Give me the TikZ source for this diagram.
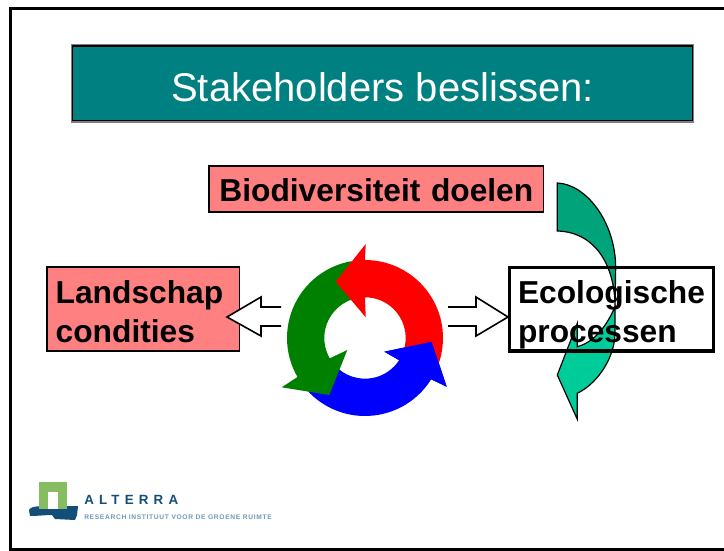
\documentclass[tikz,border=0pt]{standalone}
\usepackage{fontspec}
\setmainfont{Liberation Sans}
\usepackage{tikz}
\usetikzlibrary{calc}
\definecolor{titleteal}{HTML}{008080}
\definecolor{boxpink}{HTML}{FF8080}
\definecolor{leafdark}{HTML}{00A37A}
\definecolor{leaflight}{HTML}{00CC99}
\definecolor{ringgreen}{HTML}{008000}
\definecolor{logogreen}{HTML}{86BC62}
\definecolor{logoblue}{HTML}{124E78}
\definecolor{logogrey}{HTML}{6F98B4}

\begin{document}
\begin{tikzpicture}[x=0.75pt,y=0.75pt]
	\tikzstyle{labelbox}=[rectangle, draw=black, line width=0.8pt, anchor=north west, align=left, inner sep=0pt, outer sep=0pt, font=\bfseries\fontsize{23.8}{29.5}\selectfont]
	\tikzstyle{blockarrow}=[draw=black, line width=1.2pt, fill=white]
	\tikzstyle{leafpart}=[draw=black, line width=0.9pt]

	\useasboundingbox (0,0) rectangle (724,550);
	% frame
	\draw[line width=2.25pt] (724,1) -- (10.7,1) -- (10.7,541) -- (724,541);

	% title
	\node [rectangle, draw=gray, line width=1.8pt, fill=titleteal, minimum width=466pt, minimum height=57pt, inner sep=0pt, outer sep=0pt] (titleedge) at (382.5,466.5) {};
	\node [rectangle, draw=black, line width=1pt, text=white, minimum width=465pt, minimum height=56pt, inner sep=0pt, font=\fontsize{30}{36}\selectfont] (title) at (382.5,466.5) {\rule{0pt}{27pt}Stakeholders beslissen:};

	% boxes
	\node [labelbox, fill=boxpink, minimum width=251pt, minimum height=34.5pt, text width=240pt, align=center] (doelen) at (209,384) {\rule{0pt}{19pt}Biodiversiteit doelen};
	\node [labelbox, fill=boxpink, minimum width=144.3pt, minimum height=63pt, text width=131.25pt] (landschap) at (47,283) {\rule{0pt}{21pt}Landschap\\condities};

	% leaf
	\draw[leafpart, fill=leaflight] (577.3,226.7) -- (557.3,175) -- (577.3,130.7) -- (577.3,156.7) .. controls (600,168) and (615,195) .. (615,217) -- (615,243) .. controls (607,225) and (595,208) .. (577.3,203.3) -- cycle;
	\draw[leafpart, fill=leafdark] (557.3,367) .. controls (585,366) and (615,330) .. (615.7,283) -- (615,243) .. controls (615,285) and (595,318) .. (557.3,319) -- cycle;

	\node [labelbox, line width=2.5pt, minimum width=153.3pt, minimum height=62.6pt] (processen) at (509.3,282.5) {\rule{0pt}{26pt}Ecologische\\processen};

	% block arrows
	\coordinate (lefttip) at (227,233);
	\coordinate (righttip) at (508,233);
	\draw[blockarrow] (281,243) -- (261,243) -- (261,253) -- (lefttip) -- (261,214) -- (261,224) -- (281,224);
	\draw[blockarrow] (448,243) -- (476,243) -- (476,253) -- (righttip) -- (476,214) -- (476,224) -- (448,224);

	% ring
	\coordinate (c) at (365,212);
	\coordinate (bluetip) at (431.7,208.3);
	\coordinate (blueinner) at (384.3,198.3);
	\coordinate (blueouter) at (446.7,163.3);
	\fill[blue] ([shift={(-32:78)}]c) arc[start angle=-32, end angle=-138, radius=78] -- ([shift={(-138:40.7)}]c) arc[start angle=-138, end angle=-33, radius=40.7] -- (blueinner) -- (bluetip) -- (blueouter) -- cycle;
	\fill[ringgreen] ([shift={(210:78)}]c) arc[start angle=210, end angle=100, radius=78] -- ([shift={(100:40.7)}]c) arc[start angle=100, end angle=210, radius=40.7] -- (347.3,200) -- (329.3,155) -- (281.7,162.7) -- cycle;
	\fill[red] ([shift={(90:78)}]c) arc[start angle=90, end angle=-18, radius=78] -- ([shift={(-14:40.7)}]c) arc[start angle=-14, end angle=90, radius=40.7] -- (365.7,232.7) -- (335.7,268.3) -- (365.7,306) -- cycle;
	\fill[blue] ([shift={(-32:78)}]c) -- (blueouter) -- (bluetip) -- (blueinner) -- ([shift={(-33:40.7)}]c) -- cycle;

	% logo
	\fill[logoblue] (29,40) .. controls (32,46) and (45,43) .. (78,44) -- (77,35) -- (75,30) -- (55,31) -- (52,35) .. controls (45,35) and (38,34) .. (30,34) -- cycle;
	\fill[logogreen] (39,68) rectangle (67,41);
	\fill[white] (48,58) rectangle (58,41);
	\node [anchor=west, inner sep=0pt, text=logoblue, font=\bfseries\fontsize{10}{10}\selectfont\addfontfeature{LetterSpace=39}] (alterra) at (84,50) {ALTERRA};
	\node [anchor=west, inner sep=0pt, text=logogrey, font=\bfseries\fontsize{5}{5}\selectfont\addfontfeature{LetterSpace=10}] (slogan) at (84,32.5) {RESEARCH INSTITUUT VOOR DE GROENE RUIMTE};
\end{tikzpicture}
\end{document}
